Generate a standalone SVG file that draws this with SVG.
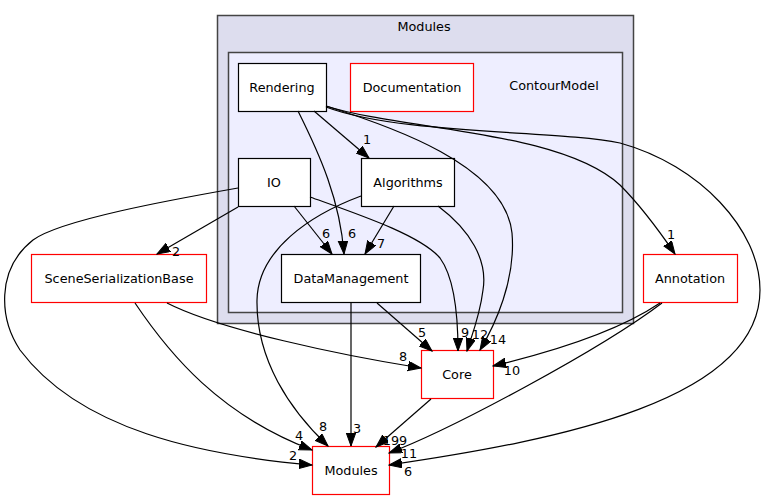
<svg xmlns="http://www.w3.org/2000/svg" width="766" height="500" viewBox="0 0 766 500">
<defs>
<marker id="arr" markerUnits="userSpaceOnUse" markerWidth="14" markerHeight="11" refX="13" refY="4.7" orient="auto">
<path d="M0,0 L13,4.7 L0,9.4 z" fill="#000" stroke="#000" stroke-width="1"/>
</marker>
<style>
text{font-family:"DejaVu Sans",Verdana,sans-serif;font-size:12.8px;fill:#000}
.lbl{text-anchor:middle}
.n{fill:#fff;stroke:#000;stroke-width:1.2}
.r{fill:#fff;stroke:#ff0000;stroke-width:1.2}
.e{fill:none;stroke:#000;stroke-width:1.2;marker-end:url(#arr)}
</style>
</defs>
<rect width="766" height="500" fill="#fff"/>
<g id="cluster_modules">
<rect x="217.5" y="15.5" width="416" height="308" fill="#ddddee" stroke="#444" stroke-width="1.5"/>
<text class="lbl" x="424" y="31">Modules</text>
</g>
<g id="cluster_contourmodel">
<rect x="228.5" y="52.5" width="394" height="260" fill="#eeeeff" stroke="#444" stroke-width="1.5"/>
<text class="lbl" x="554" y="90">ContourModel</text>
</g>
<g id="node_rendering"><rect class="n" x="238.5" y="63.5" width="88" height="48"/><text class="lbl" x="282" y="92">Rendering</text></g>
<g id="node_documentation"><rect class="r" x="350.5" y="63.5" width="123" height="48"/><text class="lbl" x="412" y="92">Documentation</text></g>
<g id="node_io"><rect class="n" x="238.5" y="158.5" width="72" height="48"/><text class="lbl" x="274" y="187">IO</text></g>
<g id="node_algorithms"><rect class="n" x="361.5" y="158.5" width="93" height="48"/><text class="lbl" x="408" y="187">Algorithms</text></g>
<g id="node_datamanagement"><rect class="n" x="281.5" y="254.5" width="139" height="48"/><text class="lbl" x="351" y="283">DataManagement</text></g>
<g id="node_ssb"><rect class="r" x="31.5" y="254.5" width="175" height="48"/><text class="lbl" x="119" y="283">SceneSerializationBase</text></g>
<g id="node_annotation"><rect class="r" x="643.5" y="254.5" width="94" height="48"/><text class="lbl" x="690" y="283">Annotation</text></g>
<g id="node_core"><rect class="r" x="421.5" y="350.5" width="72" height="48"/><text class="lbl" x="457" y="379">Core</text></g>
<g id="node_modules"><rect class="r" x="312.5" y="446.5" width="77" height="48"/><text class="lbl" x="351" y="475">Modules</text></g>
<g id="connectors">
<path class="e" d="M314,111 L369,158"/>
<text class="lbl" x="367" y="144">1</text>
<path class="e" d="M298,111 C320,155 340,200 344,254"/>
<text class="lbl" x="352" y="238">6</text>
<path class="e" d="M294,206 L332,254"/>
<text class="lbl" x="326" y="238">6</text>
<path class="e" d="M394,206 L365,254"/>
<text class="lbl" x="381" y="248">7</text>
<path class="e" d="M326,106 C390,126 505,165 512,233 C516,280 495,325 480,350"/>
<text class="lbl" x="498" y="344">14</text>
<path class="e" d="M326,106 C400,130 560,130 620,185 C640,205 660,232 675,254"/>
<text class="lbl" x="671" y="239">1</text>
<path class="e" d="M326,107 C400,135 560,130 620,143 C700,165 760,230 760,290 C760,400 560,440 389,465"/>
<text class="lbl" x="408" y="476">6</text>
<path class="e" d="M438,206 C470,230 488,260 483,290 C480,315 472,335 467,351"/>
<text class="lbl" x="480" y="339">12</text>
<path class="e" d="M310,197 C360,215 420,235 440,258 C456,280 458,320 458,351"/>
<text class="lbl" x="465" y="337">9</text>
<path class="e" d="M377,303 L432,351"/>
<text class="lbl" x="422" y="337">5</text>
<path class="e" d="M167,303 C220,330 340,355 421,368"/>
<text class="lbl" x="403" y="361">8</text>
<path class="e" d="M660,303 C620,330 560,350 493,366"/>
<text class="lbl" x="512" y="375">10</text>
<path class="e" d="M662,303 C600,350 450,430 389,453"/>
<text class="lbl" x="409" y="458">11</text>
<path class="e" d="M431,399 L376,447"/>
<text class="lbl" x="395" y="445">199</text>
<path class="e" d="M351,303 L351,446"/>
<text class="lbl" x="357" y="433">3</text>
<path class="e" d="M361,196 C310,215 258,250 257,300 C256,360 290,410 328,446"/>
<text class="lbl" x="323" y="431">8</text>
<path class="e" d="M238,188 C170,200 60,220 33,240 C-5,270 0,320 20,350 C80,430 200,455 312,465"/>
<text class="lbl" x="293" y="460">2</text>
<path class="e" d="M238,207 L157,254"/>
<text class="lbl" x="176" y="256">2</text>
<path class="e" d="M135,303 C170,355 220,415 312,450"/>
<text class="lbl" x="299" y="440">4</text>
</g>
</svg>
